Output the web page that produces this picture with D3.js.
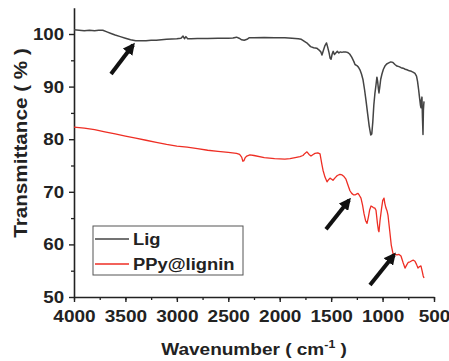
<!DOCTYPE html>
<html>
<head>
<meta charset="utf-8">
<script src="https://cdn.jsdelivr.net/npm/d3@7"></script>
<style>
  body { margin: 0; background: #fff; }
  svg { display: block; }
  text { font-family: "Liberation Sans", Arial, sans-serif; font-weight: bold; }
</style>
</head>
<body>
<svg id="chart"></svg>
<script>
const w = 449;
const h = 361;

// Lig spectrum (wavenumber, %T)
const ligWn = [4000,3950,3900,3850,3800,3760,3720,3680,3640,3600,3550,3500,3450,3400,3350,3300,3250,3200,3150,3100,3050,3000,2960,2940,2926,2912,2895,2860,2800,2700,2600,2500,2455,2420,2395,2370,2345,2318,2295,2250,2150,2050,1950,1880,1820,1790,1760,1730,1700,1670,1640,1620,1600,1589,1575,1560,1545,1535,1520,1510,1501,1490,1480,1468,1455,1440,1425,1410,1395,1380,1360,1340,1320,1300,1280,1268,1250,1235,1220,1205,1190,1175,1160,1145,1130,1115,1105,1095,1085,1075,1064,1055,1048,1040,1035,1028,1018,1006,992,977,960,940,920,899,880,860,840,820,800,780,763,740,720,700,685,670,660,650,640,632,627,622,617,612,607,603,600,597];
const ligT = [100.8,100.7,100.6,100.7,100.6,100.7,100.7,100.4,100.1,99.8,99.5,99.2,98.9,98.7,98.7,98.7,98.8,98.8,98.9,99.0,99.05,99.1,99.2,99.6,99.1,99.5,99.1,99.1,99.15,99.15,99.2,99.2,99.25,99.4,99.2,98.9,98.8,99.0,99.3,99.3,99.35,99.3,99.3,99.2,99.1,99.0,98.6,98.2,97.6,97.4,97.3,97.0,96.6,96.0,96.9,97.8,98.3,97.6,96.4,95.4,95.2,96.2,96.7,96.1,96.4,96.7,96.4,96.6,96.5,96.6,96.6,96.5,96.2,95.6,94.8,94.2,94.0,93.7,93.2,92.4,91.3,89.4,87.2,84.8,82.5,80.8,81.0,83.3,86.5,88.6,90.3,91.8,91.0,89.5,88.8,89.8,91.4,92.4,93.3,93.9,94.3,94.5,94.7,94.6,94.2,93.9,93.8,93.6,93.5,93.3,93.2,93.0,92.9,92.7,92.5,92.0,91.0,89.5,87.8,86.5,86.0,87.5,88.0,84.0,80.9,85.5,86.5,87.2];

// PPy@lignin spectrum (wavenumber, %T)
const ppyWn = [4000,3900,3800,3700,3600,3500,3400,3300,3200,3100,3000,2900,2800,2700,2600,2500,2420,2390,2370,2358,2348,2335,2320,2290,2250,2150,2050,1950,1900,1850,1803,1774,1755,1735,1715,1696,1675,1657,1630,1608,1590,1579,1560,1540,1525,1511,1495,1482,1460,1440,1415,1394,1375,1356,1335,1317,1300,1280,1268,1250,1239,1225,1210,1195,1180,1165,1151,1138,1125,1112,1103,1090,1075,1064,1050,1040,1035,1025,1010,998,986,978,967,957,947,930,915,899,880,860,840,821,800,782,765,750,733,715,700,685,670,656,640,627,615,605,597];
const ppyT = [82.3,82.1,81.8,81.4,81.0,80.6,80.2,79.8,79.4,79.0,78.7,78.5,78.2,77.9,77.7,77.5,77.3,77.1,76.6,75.8,75.9,76.5,76.8,77.0,76.9,76.5,76.3,76.2,76.3,76.5,76.7,76.9,77.3,77.6,77.1,76.8,77.1,77.3,77.4,77.2,75.2,74.1,72.8,71.9,72.3,72.6,72.4,72.2,72.7,73.1,73.3,73.2,72.9,72.4,71.2,70.2,69.7,69.4,69.4,69.6,69.7,69.3,68.8,67.5,65.8,64.5,64.0,65.2,66.6,67.3,67.2,67.0,66.9,66.5,64.0,62.6,62.4,64.5,66.8,68.4,68.8,67.8,66.9,66.4,65.5,62.5,59.8,58.3,58.1,58.0,58.1,57.8,56.5,55.5,56.1,56.6,56.7,56.9,57.0,56.8,56.2,55.5,55.8,55.9,54.9,54.0,53.6];

const xTicks = [4000,3500,3000,2500,2000,1500,1000,500];
const yTicks = [50,60,70,80,90,100];
const seriesNames = ['Lig', 'PPy@lignin'];
const seriesColors = ['#444444', '#ee2e24'];

// arrows: [tailWn, tailT, headWn, headT]
const arrows = [
  [3640, 92.4, 3426, 97.9],
  [1550, 62.9, 1326, 68.4],
  [1122, 52.3, 889, 58.0]
];

const svg = d3.select('#chart').attr('width', w).attr('height', h);

const x = d3.scaleLinear().domain([4000, 500]).range([74, 434]);
const y = d3.scaleLinear().domain([50, 105]).range([297, 7.7]);

// minor ticks
const xMinor = d3.axisBottom(x).tickValues(d3.range(4000, 499, -250)).tickSize(3).tickFormat('');
svg.append('g').attr('transform', 'translate(0,297)').call(xMinor)
  .call(g => g.select('.domain').remove())
  .selectAll('line').attr('stroke', '#222').attr('stroke-width', 1.3);

const yMinor = d3.axisLeft(y).tickValues(d3.range(55, 101, 10)).tickSize(3).tickFormat('');
svg.append('g').attr('transform', 'translate(74,0)').call(yMinor)
  .call(g => g.select('.domain').remove())
  .selectAll('line').attr('stroke', '#222').attr('stroke-width', 1.3);

const ejeX = d3.axisBottom(x).tickValues(xTicks).tickFormat(d3.format('d'))
  .tickSize(5).tickSizeOuter(0).tickPadding(8);
const gx = svg.append('g').attr('transform', 'translate(0,297)').call(ejeX);
gx.select('.domain').attr('stroke', '#222').attr('stroke-width', 1.6);
gx.selectAll('line').attr('stroke', '#222').attr('stroke-width', 1.4);
gx.selectAll('text').attr('font-size', 17).attr('fill', '#222')
  .attr('font-family', '"Liberation Sans", Arial, sans-serif')
  .attr('font-weight', 'bold').attr('transform', 'scale(1.12,1)');

const ejeY = d3.axisLeft(y).tickValues(yTicks).tickSize(5).tickSizeOuter(0).tickPadding(4);
const gy = svg.append('g').attr('transform', 'translate(74,0)').call(ejeY);
gy.select('.domain').attr('stroke', '#222').attr('stroke-width', 1.6);
gy.selectAll('line').attr('stroke', '#222').attr('stroke-width', 1.4);
gy.selectAll('text').attr('font-size', 17).attr('fill', '#222')
  .attr('font-family', '"Liberation Sans", Arial, sans-serif')
  .attr('font-weight', 'bold').attr('transform', 'scale(1.1,1)');

// spectra
const linea = d3.line().x(d => x(d[0])).y(d => y(d[1]));
const ligData = ligWn.map((v, i) => [v, ligT[i]]);
const ppyData = ppyWn.map((v, i) => [v, ppyT[i]]);

svg.append('path').attr('d', linea(ligData))
  .attr('fill', 'none').attr('stroke', seriesColors[0]).attr('stroke-width', 1.5)
  .attr('stroke-linejoin', 'round');
svg.append('path').attr('d', linea(ppyData))
  .attr('fill', 'none').attr('stroke', seriesColors[1]).attr('stroke-width', 1.3)
  .attr('stroke-linejoin', 'round');

// arrows
svg.append('defs').append('marker')
  .attr('id', 'head').attr('markerUnits', 'userSpaceOnUse')
  .attr('markerWidth', 12).attr('markerHeight', 12)
  .attr('refX', 9).attr('refY', 6).attr('orient', 'auto')
  .append('path').attr('d', 'M0,0 L12,6 L0,12 z').attr('fill', '#111');

svg.selectAll('.arrow').data(arrows).enter().append('line')
  .attr('class', 'arrow')
  .attr('x1', d => x(d[0])).attr('y1', d => y(d[1]))
  .attr('x2', d => x(d[2])).attr('y2', d => y(d[3]))
  .attr('stroke', '#111').attr('stroke-width', 4)
  .attr('marker-end', 'url(#head)');

// legend
const leg = svg.append('g');
leg.append('rect').attr('x', 93).attr('y', 226).attr('width', 150).attr('height', 49)
  .attr('fill', '#fff').attr('stroke', '#555').attr('stroke-width', 1);
seriesNames.forEach((n, i) => {
  const yy = 239 + i * 25;
  leg.append('line').attr('x1', 95).attr('x2', 129).attr('y1', yy).attr('y2', yy)
    .attr('stroke', seriesColors[i]).attr('stroke-width', 1.5);
  leg.append('text').attr('transform', 'translate(133,' + (yy + 6) + ') scale(1.08,1)')
    .attr('font-size', 17).attr('fill', '#222').text(n);
});

// axis titles
const tx = svg.append('text')
  .attr('transform', 'translate(254,355) scale(1.12,1)')
  .attr('text-anchor', 'middle').attr('font-size', 17).attr('fill', '#222');
tx.append('tspan').text('Wavenumber ( cm');
tx.append('tspan').attr('font-size', 11).attr('dy', -7).text('-1');
tx.append('tspan').attr('dy', 7).text(' )');

svg.append('text')
  .attr('transform', 'translate(27,143) rotate(-90) scale(1.15,1)')
  .attr('text-anchor', 'middle').attr('font-size', 18).attr('fill', '#222')
  .text('Transmittance ( % )');
</script>
</body>
</html>
